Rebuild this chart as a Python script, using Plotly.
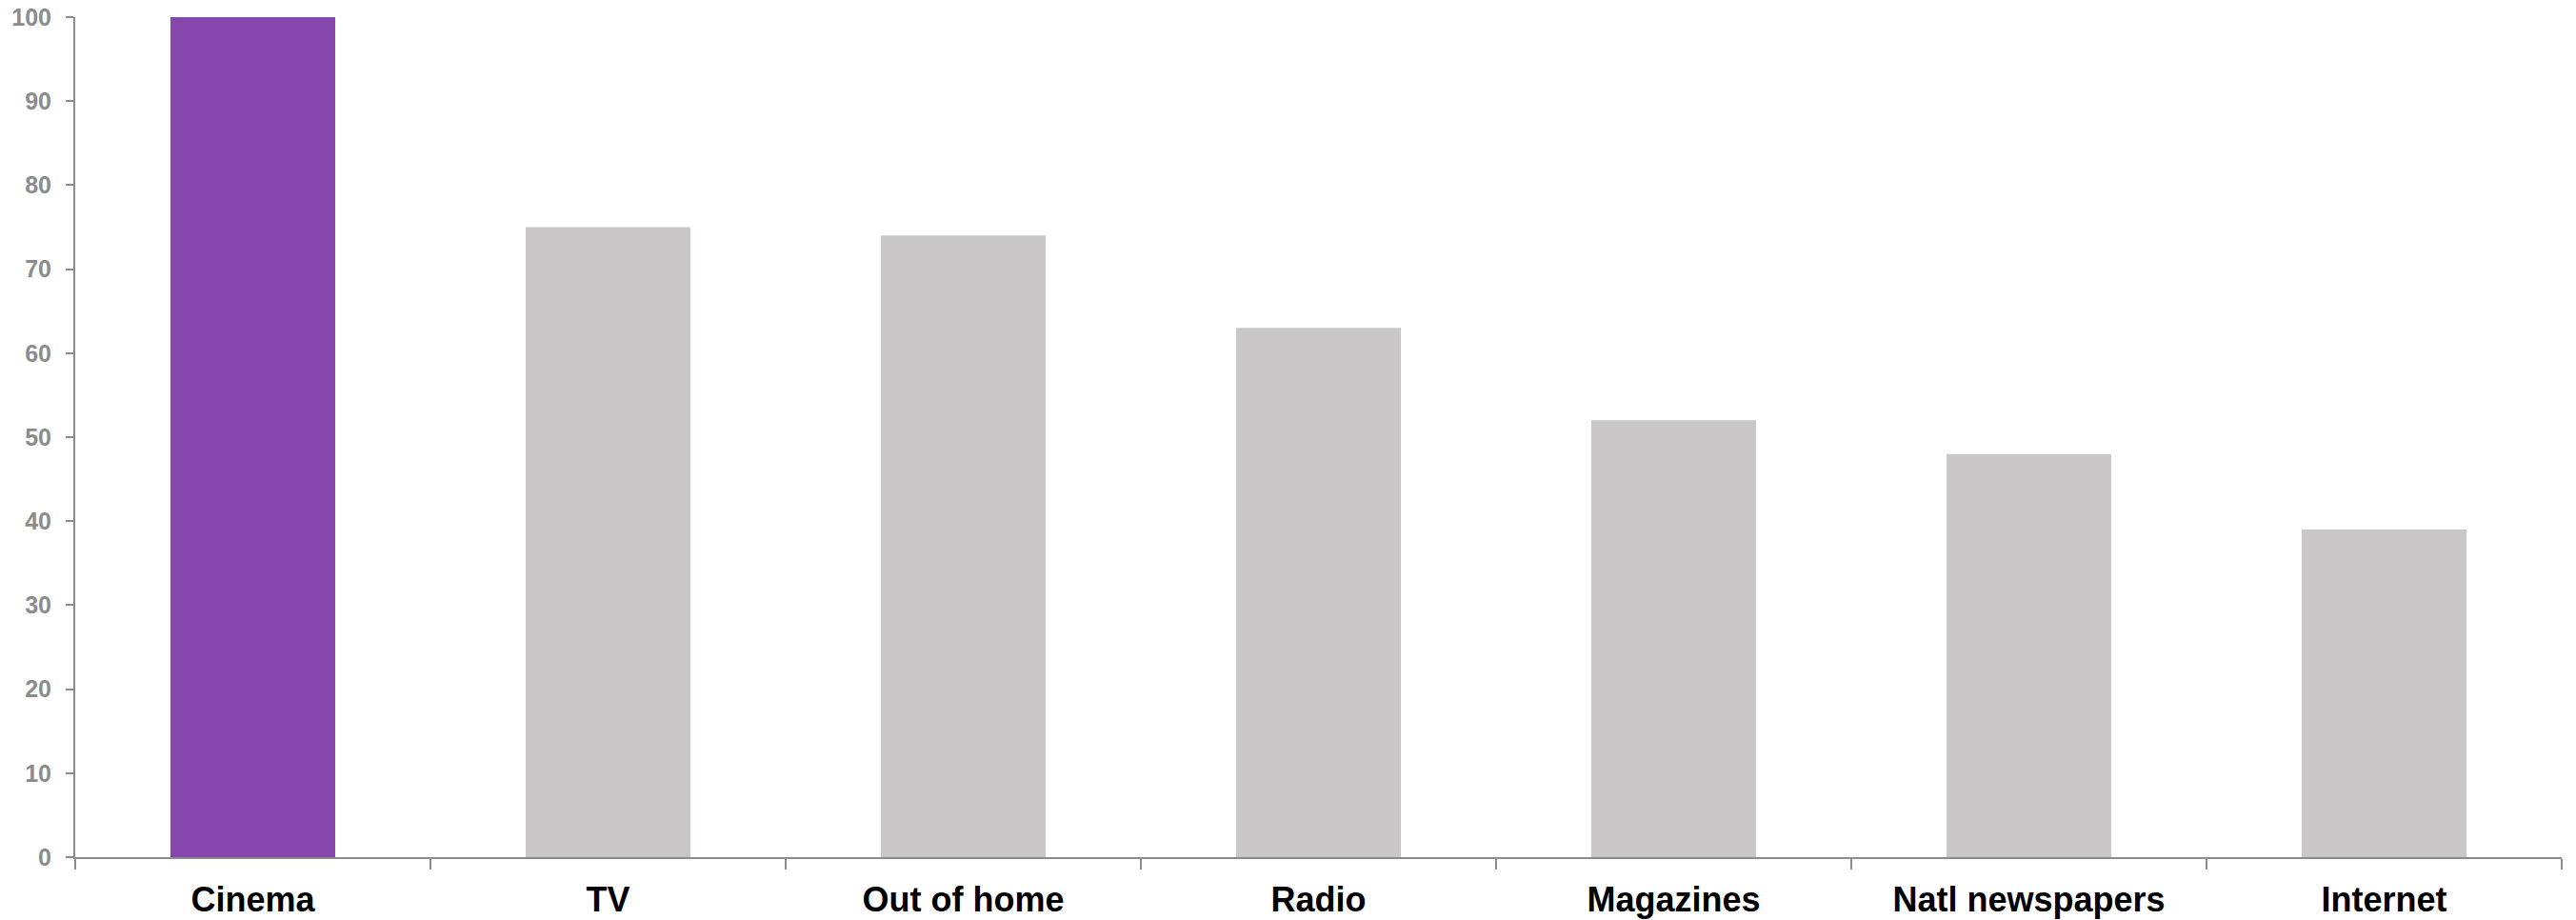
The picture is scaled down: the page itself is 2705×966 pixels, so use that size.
import plotly.graph_objects as go

categories = ["Cinema", "TV", "Out of home", "Radio", "Magazines", "Natl newspapers", "Internet"]
values = [100, 75, 74, 63, 52, 48, 39]
bar_colors = ["#8547AB", "#C9C7C8", "#C9C7C8", "#C9C7C8", "#C9C7C8", "#C9C7C8", "#C9C7C8"]
y_ticks = [0, 10, 20, 30, 40, 50, 60, 70, 80, 90, 100]

fig = go.Figure(go.Bar(x=categories, y=values, marker=dict(color=bar_colors, line=dict(width=0)), width=0.464))

axis_color = "#8C8C8C"
fig.update_layout(
    width=2705, height=966,
    margin=dict(l=71, r=23, t=10, b=74),
    paper_bgcolor="white", plot_bgcolor="white",
    showlegend=False,
    font=dict(family="Liberation Sans, Arial, sans-serif"),
)
fig.update_xaxes(
    type="category", showgrid=False, showline=True, linecolor=axis_color, linewidth=2,
    ticks="outside", tickson="boundaries", ticklen=11, tickwidth=2, tickcolor=axis_color,
    tickfont=dict(size=36, color="black", family="Liberation Sans, Arial, sans-serif", weight="bold"),
    range=[-0.5, 6.5], automargin=False, ticklabelstandoff=12, ticklabeloverflow="allow",
)
fig.update_yaxes(
    range=[0, 100], tickvals=y_ticks, showgrid=False, zeroline=False,
    showline=True, linecolor=axis_color, linewidth=2,
    ticks="outside", ticklen=8, tickwidth=2, tickcolor=axis_color,
    tickfont=dict(size=25, color=axis_color, family="Liberation Sans, Arial, sans-serif", weight="bold"),
    ticklabelstandoff=10, automargin=False, ticklabeloverflow="allow",
)
fig.write_html("out.html")
